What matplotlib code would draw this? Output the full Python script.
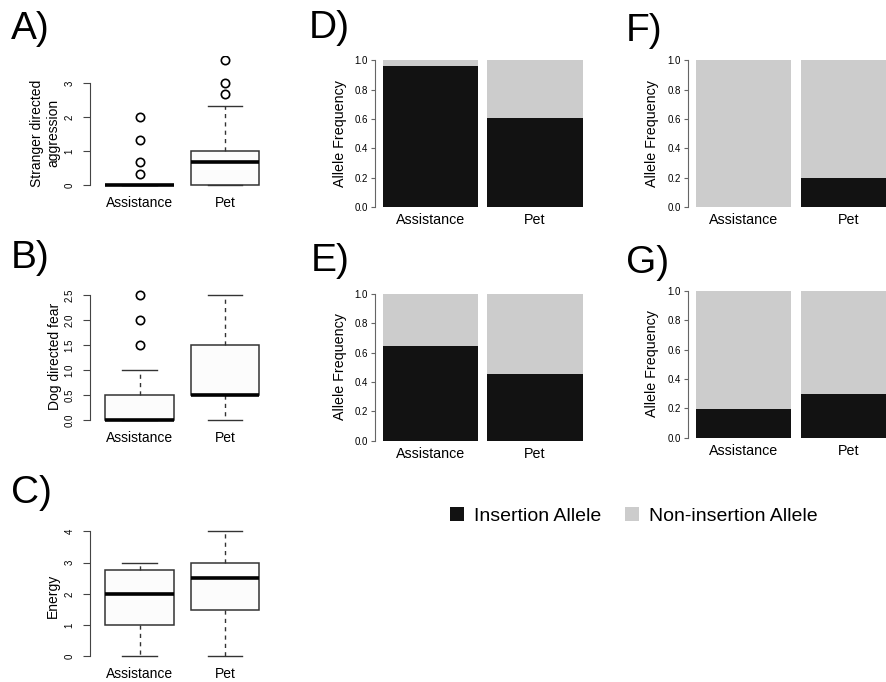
import matplotlib
matplotlib.use("Agg")
import matplotlib.pyplot as plt
from matplotlib.patches import Patch

plt.rcParams['font.family'] = ['Liberation Sans', 'DejaVu Sans']

W, H = 887, 682

groups = ["Assistance", "Pet"]

# Box plot summaries: (whislo, q1, med, q3, whishi, fliers)
aggr_stats = [
    (0.0, 0.0, 0.0, 0.0, 0.0, [0.33, 0.67, 1.33, 2.0]),
    (0.0, 0.0, 0.67, 1.0, 2.33, [2.67, 3.0, 3.67]),
]
fear_stats = [
    (0.0, 0.0, 0.0, 0.5, 1.0, [1.5, 2.0, 2.5]),
    (0.0, 0.5, 0.5, 1.5, 2.5, []),
]
energy_stats = [
    (0.0, 1.0, 2.0, 2.75, 3.0, []),
    (0.0, 1.5, 2.5, 3.0, 4.0, []),
]

# Insertion allele frequencies per panel
insertion_D = [0.96, 0.61]
insertion_E = [0.646, 0.455]
insertion_F = [0.0, 0.198]
insertion_G = [0.197, 0.298]

col_ins = "#121212"
col_non = "#CCCCCC"

fig = plt.figure(figsize=(W / 100, H / 100), dpi=100)


def add_ax(l, t, r, b):
    return fig.add_axes([l / W, 1 - b / H, (r - l) / W, (b - t) / H])


def box_panel(rect, stats, ylim, ticks, ticklabels, ylabel, label_xy):
    ax = add_ax(*rect)
    bx = []
    for s in stats:
        bx.append(dict(whislo=s[0], q1=s[1], med=s[2], q3=s[3], whishi=s[4], fliers=s[5]))
    ax.bxp(bx, positions=[1, 2], widths=0.8, capwidths=0.4, patch_artist=True,
           boxprops=dict(facecolor="#FCFCFC", edgecolor="#333333", linewidth=1.1),
           medianprops=dict(color="black", linewidth=2.6, solid_capstyle="butt"),
           whiskerprops=dict(color="#333333", linewidth=1.0, linestyle=(0, (3, 3))),
           capprops=dict(color="#333333", linewidth=1.0),
           flierprops=dict(marker="o", markerfacecolor="none", markeredgecolor="black",
                           markersize=6, markeredgewidth=1.2))
    ax.set_xlim(0.42, 2.58)
    ax.set_ylim(*ylim)
    for sp in ["top", "right", "bottom"]:
        ax.spines[sp].set_visible(False)
    ax.spines["left"].set_bounds(ticks[0], ticks[-1])
    ax.spines["left"].set_color("#444444")
    ax.set_yticks(ticks)
    ax.set_yticklabels(ticklabels, rotation=90, va="center", fontsize=7)
    ax.tick_params(axis="y", length=5, width=0.8, color="#444444", pad=6)
    ax.set_xticks([1, 2])
    ax.set_xticklabels(groups, fontsize=10)
    ax.tick_params(axis="x", length=0, pad=4)
    fig.text(label_xy[0] / W, 1 - label_xy[1] / H, ylabel, rotation=90, ha="center",
             va="center", fontsize=10, multialignment="center")
    return ax


def bar_panel(rect, ins, label_xy):
    ax = add_ax(*rect)
    pos = [0.6, 1.7]
    non = [1 - v for v in ins]
    ax.bar(pos, ins, width=1.0, color=col_ins, linewidth=0)
    ax.bar(pos, non, bottom=ins, width=1.0, color=col_non, linewidth=0)
    ax.set_xlim(0.1 - 0.084, 2.2 + 0.084)
    ax.set_ylim(-0.04, 1.04)
    for sp in ["top", "right", "bottom"]:
        ax.spines[sp].set_visible(False)
    ax.spines["left"].set_bounds(0, 1)
    ax.spines["left"].set_color("#666666")
    ax.set_yticks([0, 0.2, 0.4, 0.6, 0.8, 1.0])
    ax.set_yticklabels(["0.0", "0.2", "0.4", "0.6", "0.8", "1.0"], fontsize=7)
    ax.tick_params(axis="y", length=3, width=0.8, color="#666666", pad=2)
    ax.set_xticks(pos)
    ax.set_xticklabels(groups, fontsize=10.3)
    ax.tick_params(axis="x", length=0, pad=0)
    fig.text(label_xy[0] / W, 1 - label_xy[1] / H, "Allele Frequency", rotation=90,
             ha="center", va="center", fontsize=10.3)
    return ax


box_panel((90, 55.5, 274.6, 190), aggr_stats, (-0.147, 3.81), [0, 1, 2, 3],
          ["0", "1", "2", "3"], "Stranger directed\naggression", (45, 133))
box_panel((90, 290, 274.6, 425), fear_stats, (-0.1, 2.6), [0, 0.5, 1.0, 1.5, 2.0, 2.5],
          ["0.0", "0.5", "1.0", "1.5", "2.0", "2.5"], "Dog directed fear", (55, 356))
box_panel((90, 526.5, 274.6, 661.3), energy_stats, (-0.16, 4.16), [0, 1, 2, 3, 4],
          ["0", "1", "2", "3", "4"], "Energy", (53, 596))

bar_panel((374.7, 54.4, 590.7, 212.9), insertion_D, (340, 134))
bar_panel((374.7, 288.1, 590.7, 446.6), insertion_E, (340, 367))
bar_panel((688, 54.4, 904, 212.9), insertion_F, (652, 134))
bar_panel((688, 285.1, 904, 443.6), insertion_G, (652, 364))

for lab, x, y in [("A)", 11, 29), ("B)", 11, 258), ("C)", 11, 493),
                  ("D)", 309, 28), ("E)", 311, 261), ("F)", 626, 31), ("G)", 626, 263)]:
    fig.text(x / W, 1 - y / H, lab, fontsize=28, ha="left", va="center")

handles = [Patch(facecolor=col_ins, edgecolor="none"), Patch(facecolor=col_non, edgecolor="none")]
fig.legend(handles, ["Insertion Allele", "Non-insertion Allele"], loc="center",
           bbox_to_anchor=(634 / W, 1 - 516 / H), ncol=2, frameon=False, fontsize=14,
           handlelength=0.72, handleheight=0.72, handletextpad=0.5, columnspacing=1.25)

fig.savefig("out.png", dpi=100)
